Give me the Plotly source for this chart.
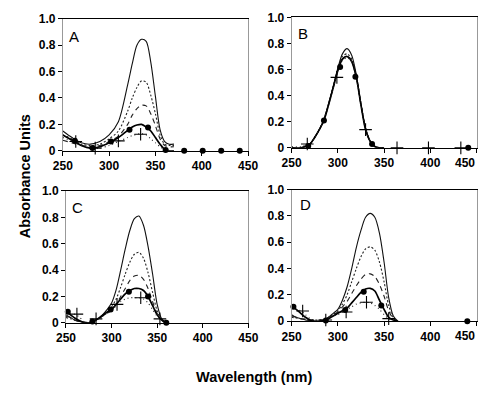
import plotly.graph_objects as go

# ---------------- data ----------------
A_x = [250, 260, 270, 280, 290, 300, 310, 320, 325, 330, 335, 340, 345, 350, 355, 360, 365, 370]
A_solid = [0.15, 0.10, 0.06, 0.05, 0.07, 0.12, 0.22, 0.50, 0.66, 0.80, 0.845, 0.83, 0.67, 0.41, 0.16, 0.07, 0.05, 0.05]
A_dot = [0.12, 0.09, 0.05, 0.04, 0.05, 0.09, 0.15, 0.30, 0.40, 0.48, 0.53, 0.52, 0.42, 0.28, 0.12, 0.05, 0.04, 0.04]
A_dash = [0.08, 0.06, 0.04, 0.03, 0.04, 0.07, 0.11, 0.20, 0.27, 0.32, 0.345, 0.34, 0.28, 0.19, 0.09, 0.04, 0.03, 0.03]
A_circ = [0.12, 0.08, 0.04, 0.02, 0.03, 0.06, 0.10, 0.155, 0.18, 0.195, 0.20, 0.18, 0.15, 0.10, 0.05, 0.01, 0.0, 0.0]
A_plus = [0.10, 0.07, 0.04, 0.02, 0.02, 0.04, 0.07, 0.10, 0.115, 0.125, 0.13, 0.12, 0.09, 0.06, 0.03, 0.01, 0.0, 0.0]
A_circ_mx = [263, 282, 302, 322, 342, 361, 381, 401, 421, 441]
A_circ_my = [0.075, 0.02, 0.07, 0.16, 0.177, 0.005, 0, 0, 0, 0]
A_plus_mx = [264, 285, 310, 334]
A_plus_my = [0.07, 0.02, 0.075, 0.125]

B_x = [250, 260, 265, 270, 275, 280, 285, 290, 295, 300, 305, 310, 315, 320, 325, 330, 335, 340, 345, 350]
B_solid = [0.0, 0.0, 0.01, 0.03, 0.08, 0.14, 0.22, 0.34, 0.47, 0.61, 0.72, 0.76, 0.71, 0.56, 0.34, 0.15, 0.05, 0.01, 0.0, 0.0]
B_dot = [0.0, 0.0, 0.01, 0.03, 0.08, 0.14, 0.22, 0.34, 0.47, 0.60, 0.70, 0.72, 0.68, 0.55, 0.34, 0.15, 0.05, 0.01, 0.0, 0.0]
B_dash = [0.0, 0.0, 0.01, 0.03, 0.08, 0.14, 0.21, 0.33, 0.46, 0.59, 0.68, 0.70, 0.67, 0.54, 0.33, 0.15, 0.05, 0.01, 0.0, 0.0]
B_circ = [0.0, 0.0, 0.01, 0.03, 0.08, 0.14, 0.21, 0.33, 0.46, 0.59, 0.68, 0.70, 0.66, 0.54, 0.33, 0.14, 0.05, 0.01, 0.0, 0.0]
B_plus = [0.01, 0.01, 0.02, 0.03, 0.08, 0.14, 0.21, 0.33, 0.46, 0.59, 0.67, 0.69, 0.66, 0.53, 0.33, 0.14, 0.05, 0.01, 0.0, 0.0]
B_circ_mx = [268, 285, 302.5, 319, 337, 441]
B_circ_my = [0.015, 0.21, 0.62, 0.545, 0.03, 0]
B_plus_mx = [267, 299, 330, 364, 398, 433]
B_plus_my = [0.03, 0.54, 0.14, 0, 0, 0]

C_x = [250, 255, 260, 265, 270, 275, 280, 285, 290, 295, 300, 305, 310, 315, 320, 325, 330, 335, 340, 345, 350, 355, 360]
C_solid = [0.06, 0.04, 0.02, 0.01, 0.0, 0.0, 0.01, 0.03, 0.06, 0.10, 0.15, 0.25, 0.40, 0.56, 0.70, 0.79, 0.81, 0.74, 0.58, 0.37, 0.14, 0.03, 0.0]
C_dot = [0.04, 0.03, 0.02, 0.01, 0.0, 0.0, 0.01, 0.03, 0.05, 0.08, 0.12, 0.18, 0.27, 0.37, 0.46, 0.52, 0.535, 0.49, 0.38, 0.23, 0.09, 0.02, 0.0]
C_dash = [0.05, 0.04, 0.02, 0.01, 0.0, 0.0, 0.01, 0.03, 0.05, 0.07, 0.10, 0.14, 0.20, 0.26, 0.32, 0.355, 0.36, 0.33, 0.26, 0.16, 0.07, 0.02, 0.0]
C_circ = [0.085, 0.06, 0.035, 0.015, 0.003, 0.0, 0.01, 0.03, 0.055, 0.08, 0.10, 0.14, 0.18, 0.22, 0.245, 0.26, 0.26, 0.245, 0.20, 0.13, 0.06, 0.02, 0.0]
C_plus = [0.07, 0.07, 0.065, 0.04, 0.01, 0.0, 0.01, 0.03, 0.05, 0.07, 0.09, 0.13, 0.16, 0.18, 0.19, 0.19, 0.19, 0.18, 0.15, 0.10, 0.05, 0.02, 0.0]
C_circ_mx = [252, 279, 299, 319, 340, 360]
C_circ_my = [0.083, 0.01, 0.10, 0.236, 0.20, 0]
C_plus_mx = [262, 283, 306, 332, 353]
C_plus_my = [0.066, 0.03, 0.14, 0.19, 0.03]

D_x = [250, 255, 260, 265, 270, 275, 280, 285, 290, 295, 300, 305, 310, 315, 320, 325, 330, 335, 340, 345, 350, 355, 360, 365]
D_solid = [0.05, 0.03, 0.02, 0.01, 0.005, 0.0, 0.0, 0.01, 0.03, 0.06, 0.09, 0.16, 0.26, 0.40, 0.56, 0.69, 0.79, 0.82, 0.79, 0.67, 0.45, 0.18, 0.04, 0.0]
D_dot = [0.03, 0.025, 0.02, 0.015, 0.01, 0.01, 0.01, 0.01, 0.03, 0.05, 0.08, 0.13, 0.20, 0.30, 0.40, 0.49, 0.55, 0.565, 0.54, 0.45, 0.30, 0.12, 0.03, 0.0]
D_dash = [0.04, 0.03, 0.02, 0.015, 0.01, 0.01, 0.01, 0.01, 0.03, 0.05, 0.07, 0.11, 0.15, 0.21, 0.27, 0.32, 0.355, 0.36, 0.34, 0.28, 0.19, 0.08, 0.02, 0.0]
D_circ = [0.11, 0.09, 0.06, 0.03, 0.01, 0.0, 0.0, 0.003, 0.02, 0.04, 0.06, 0.08, 0.10, 0.14, 0.18, 0.22, 0.245, 0.25, 0.23, 0.16, 0.09, 0.03, 0.01, 0.0]
D_plus = [0.10, 0.09, 0.08, 0.05, 0.02, 0.005, 0.0, 0.005, 0.02, 0.04, 0.05, 0.07, 0.09, 0.11, 0.13, 0.14, 0.145, 0.14, 0.12, 0.09, 0.05, 0.02, 0.005, 0.0]
D_circ_mx = [252, 287, 308, 328, 347, 440]
D_circ_my = [0.11, 0.005, 0.086, 0.225, 0.12, 0]
D_plus_mx = [262, 287, 309, 331, 355]
D_plus_my = [0.078, 0.01, 0.07, 0.144, 0.02]

panel_labels = ["A", "B", "C", "D"]
y_tickvals = [0, 0.2, 0.4, 0.6, 0.8, 1.0]
y_ticktext = ["0", "0.2", "0.4", "0.6", "0.8", "1.0"]
x_tickvals = [250, 300, 350, 400, 450]
x_ticktext = ["250", "300", "350", "400", "450"]

panels = [
    (A_x, A_solid, A_dot, A_dash, A_circ, A_plus, A_circ_mx, A_circ_my, A_plus_mx, A_plus_my),
    (B_x, B_solid, B_dot, B_dash, B_circ, B_plus, B_circ_mx, B_circ_my, B_plus_mx, B_plus_my),
    (C_x, C_solid, C_dot, C_dash, C_circ, C_plus, C_circ_mx, C_circ_my, C_plus_mx, C_plus_my),
    (D_x, D_solid, D_dot, D_dash, D_circ, D_plus, D_circ_mx, D_circ_my, D_plus_mx, D_plus_my),
]

W, H = 500, 398
# pixel boxes (left, right, top, bottom)
boxes = [(55, 248, 12.3, 149), (293.3, 486, 10.7, 146), (58.3, 248.3, 190.7, 327.3), (293.3, 486, 189.3, 325.7)]
letter_pos = [(59, 31), (298, 27), (62, 208), (300, 205)]
right_panel = [False, True, False, True]

fig = go.Figure()
font_fam = "Arial, Liberation Sans, sans-serif"
tick_font = dict(family=font_fam, size=12, color="#000", weight="bold")

for i, (px, s1, s2, s3, s4, s5, cmx, cmy, pmx, pmy) in enumerate(panels):
    xa = "x" if i == 0 else f"x{i+1}"
    ya = "y" if i == 0 else f"y{i+1}"
    common = dict(xaxis=xa, yaxis=ya, showlegend=False, mode="lines")
    fig.add_trace(go.Scatter(x=px, y=s1, line=dict(color="#111", width=1.1, shape="spline", smoothing=0.8), **common))
    fig.add_trace(go.Scatter(x=px, y=s2, line=dict(color="#222", width=1.1, dash="2px,2px", shape="spline", smoothing=0.8), **common))
    fig.add_trace(go.Scatter(x=px, y=s3, line=dict(color="#222", width=1.1, dash="5px,4px", shape="spline", smoothing=0.8), **common))
    fig.add_trace(go.Scatter(x=px, y=s4, line=dict(color="#000", width=1.7, shape="spline", smoothing=0.8), **common))
    fig.add_trace(go.Scatter(x=px, y=s5, line=dict(color="#222", width=1.1, dash="1px,3px", shape="spline", smoothing=0.8), **common))
    fig.add_trace(go.Scatter(x=cmx, y=cmy, mode="markers", xaxis=xa, yaxis=ya, showlegend=False, cliponaxis=False,
                             marker=dict(symbol="circle", size=6, color="#000")))
    fig.add_trace(go.Scatter(x=pmx, y=pmy, mode="markers", xaxis=xa, yaxis=ya, showlegend=False, cliponaxis=False,
                             marker=dict(symbol="cross-thin", size=9, color="#000", line=dict(color="#000", width=1.1))))

    l, r, t, b = boxes[i]
    xdom = [l / W, r / W]
    ydom = [1 - b / H, 1 - t / H]
    xkey = "xaxis" if i == 0 else f"xaxis{i+1}"
    ykey = "yaxis" if i == 0 else f"yaxis{i+1}"
    ttext = list(x_ticktext)
    if right_panel[i]:
        # last label is drawn nudged left (as in the original figure)
        ttext[-1] = ""
    fig.update_layout(**{
        xkey: dict(domain=xdom, range=[250, 450], anchor=ya, tickvals=x_tickvals, ticktext=ttext,
                   ticks="outside", ticklen=4, tickcolor="#000", showline=True, linecolor="#000", linewidth=1,
                   mirror=True, showgrid=False, zeroline=False, tickfont=tick_font),
        ykey: dict(domain=ydom, range=[0, 1.0], anchor=xa, tickvals=y_tickvals, ticktext=y_ticktext,
                   ticks="outside", ticklen=4, tickcolor="#000", showline=True, linecolor="#999", linewidth=1,
                   mirror=True, showgrid=False, zeroline=False, tickfont=tick_font),
    })
    if right_panel[i]:
        fig.add_annotation(x=x_tickvals[-1], y=0, xref=xa, yref=f"{ya} domain", text=x_ticktext[-1],
                           showarrow=False, xanchor="center", yanchor="top", xshift=-12, yshift=-6,
                           font=tick_font)
    lx, ly = letter_pos[i]
    fig.add_annotation(x=lx / W, y=1 - ly / H, xref="paper", yref="paper", text=panel_labels[i],
                       showarrow=False, xanchor="left", yanchor="middle",
                       font=dict(family=font_fam, size=15, color="#000"))

fig.add_annotation(x=15 / W, y=1 - 175 / H, xref="paper", yref="paper", text="Absorbance Units",
                   textangle=-90, showarrow=False, xanchor="center", yanchor="middle",
                   font=dict(family=font_fam, size=14.5, color="#000", weight="bold"))
fig.add_annotation(x=254 / W, y=1 - 383 / H, xref="paper", yref="paper", text="Wavelength (nm)",
                   showarrow=False, xanchor="center", yanchor="middle",
                   font=dict(family=font_fam, size=14.5, color="#000", weight="bold"))

fig.update_layout(width=W, height=H, margin=dict(l=0, r=0, t=0, b=0),
                  paper_bgcolor="white", plot_bgcolor="white")

fig.write_html("out.html", config={"displayModeBar": False},
               post_script="document.body.style.margin='0';document.body.style.padding='0';")
